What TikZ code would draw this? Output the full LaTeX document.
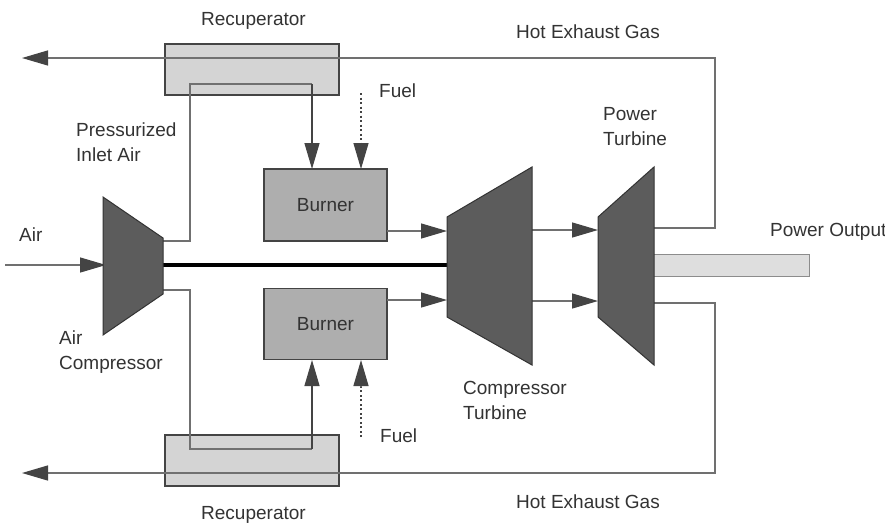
\documentclass[tikz,border=0pt]{standalone}
\usepackage{fontspec}
\setmainfont{Liberation Sans}
\usetikzlibrary{arrows.meta}
\definecolor{turb}{HTML}{5C5C5C}
\definecolor{burn}{HTML}{AEAEAE}
\definecolor{rec}{HTML}{D4D4D4}
\definecolor{ln}{HTML}{444444}
\definecolor{pipec}{HTML}{707070}
\definecolor{txt}{HTML}{333333}
\tikzset{
 x=1pt,y=-1pt,
 lbl/.style={font=\fontsize{19}{25}\selectfont,text=txt,align=left,inner sep=0pt,anchor=west},
 pipe/.style={draw=pipec,line width=1.3pt},
 tip/.style={-{Triangle[length=26pt,width=15pt,color=ln]}},
 fuelflow/.style={draw=ln,line width=1.1pt,dash pattern=on 2pt off 2.5pt},
 boxb/.style={draw=ln,fill=burn,line width=1.2pt,minimum width=123pt,inner sep=0pt,font=\fontsize{19}{25}\selectfont,text=txt},
 boxr/.style={draw=ln,fill=rec,line width=1.2pt,minimum width=174pt,minimum height=51pt,inner sep=0pt},
 tshape/.style={draw=black!80,fill=turb,line width=1pt},
 shaftbox/.style={draw=black!45,fill=black!13,line width=1pt},
}
\begin{document}
\begin{tikzpicture}
\useasboundingbox (0,0) rectangle (885,525);
\fill[white] (0,0) rectangle (885,525);
% named points
\coordinate (acT) at (163,241); \coordinate (acB) at (163,290);
\coordinate (a1) at (190,241); \coordinate (a2) at (190,84); \coordinate (a3) at (312,84);
\coordinate (a4) at (190,290); \coordinate (a5) at (190,449); \coordinate (a6) at (312,449);
\coordinate (exT) at (22,58); \coordinate (exB) at (22,473);
\coordinate (e1) at (715,228); \coordinate (e2) at (715,58);
\coordinate (e3) at (715,303); \coordinate (e4) at (715,473);
\coordinate (inA) at (5,265); \coordinate (acI) at (106,265);
\coordinate (bt1) at (312,169); \coordinate (bb1) at (312,360);
\coordinate (fT) at (361,93); \coordinate (fTm) at (361,143); \coordinate (fTe) at (361,169);
\coordinate (fB) at (361,437); \coordinate (fBm) at (361,386); \coordinate (fBe) at (361,360);
\coordinate (bto) at (387,231); \coordinate (cti) at (447,231);
\coordinate (bbo) at (387,300); \coordinate (cbi) at (447,300);
\coordinate (cto) at (532,230); \coordinate (pti) at (598,230);
\coordinate (cbo) at (532,301); \coordinate (pbi) at (598,301);
\coordinate (pto) at (654,228); \coordinate (pbo) at (654,303);
\coordinate (s1) at (160,265); \coordinate (s2) at (447,265);
% recuperators
\node[boxr] (rt) at (252,69.5) {};
\node[boxr] (rb) at (252,460.5) {};
% burners
\node[boxb,minimum height=72pt] (bt) at (325.5,205) {Burner};
\node[boxb,minimum height=71pt] (bb) at (325.5,324) {Burner};
% output shaft
\draw[shaftbox] (640,254) rectangle (809,276);
\draw[black,line width=3.5pt] (s1) -- (s2);
% air in
\draw[pipe,tip] (inA) -- (acI);
% inlet pipes
\draw[pipe] (acT) -- (a1) -- (a2) -- (a3);
\draw[pipe,tip,draw=ln] (a3) -- (bt1);
\draw[pipe] (acB) -- (a4) -- (a5) -- (a6);
\draw[pipe,tip,draw=ln] (a6) -- (bb1);
% fuel
\draw[fuelflow] (fT) -- (fTm);
\draw[pipe,tip] (fTm) -- (fTe);
\draw[fuelflow] (fB) -- (fBm);
\draw[pipe,tip] (fBm) -- (fBe);
% burner to turbine
\draw[pipe,tip] (bto) -- (cti);
\draw[pipe,tip] (bbo) -- (cbi);
\draw[pipe,tip] (cto) -- (pti);
\draw[pipe,tip] (cbo) -- (pbi);
% exhaust
\draw[pipe,tip] (pto) -- (e1) -- (e2) -- (exT);
\draw[pipe,tip] (pbo) -- (e3) -- (e4) -- (exB);
% turbines
\draw[tshape] (103,197) -- (163,238) -- (163,294) -- (103,335) -- cycle;
\draw[tshape] (447,217) -- (532,167) -- (532,365) -- (447,317) -- cycle;
\draw[tshape] (598,217) -- (654,167) -- (654,365) -- (598,317) -- cycle;
% labels
\node[lbl] (l1) at (201,21) {Recuperator};
\node[lbl] (l2) at (516,32) {Hot Exhaust Gas};
\node[lbl] (l3) at (379,91) {Fuel};
\node[lbl] (l4) at (76,142) {Pressurized\\Inlet Air};
\node[lbl] (l5) at (603,127) {Power\\Turbine};
\node[lbl] (l6) at (19,235) {Air};
\node[lbl] (l7) at (770,232) {Power Output};
\node[lbl] (l8) at (59,352) {Air\\Compressor};
\node[lbl] (l9) at (463,400) {Compressor\\Turbine};
\node[lbl] (l10) at (380,436) {Fuel};
\node[lbl] (l11) at (516,502) {Hot Exhaust Gas};
\node[lbl] (l12) at (201,515) {Recuperator};
\end{tikzpicture}
\end{document}
